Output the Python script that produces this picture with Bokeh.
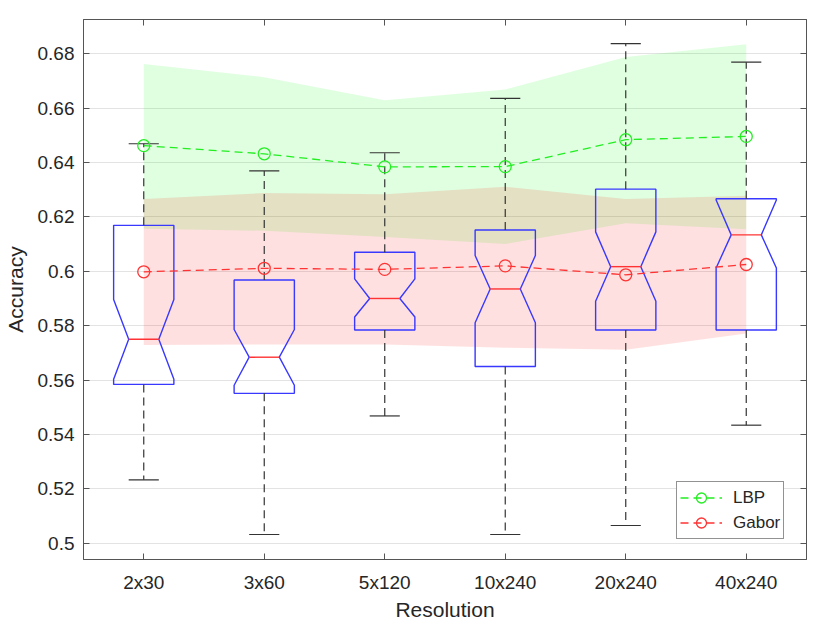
from bokeh.plotting import figure
from bokeh.models import Range1d, LinearAxis, FixedTicker, Legend, LegendItem
from bokeh.embed import file_html
from bokeh.resources import INLINE

# ---- data ----
categories = ["2x30", "3x60", "5x120", "10x240", "20x240", "40x240"]

q1 = [0.5584, 0.5551, 0.5784, 0.5650, 0.5784, 0.5784]
q3 = [0.6169, 0.5968, 0.6070, 0.6152, 0.6302, 0.6267]
median = [0.5750, 0.5684, 0.5900, 0.5935, 0.6017, 0.6134]
notch_lo = [0.5603, 0.5581, 0.5832, 0.5811, 0.5890, 0.6012]
notch_hi = [0.5896, 0.5786, 0.5972, 0.6058, 0.6145, 0.6262]
whisker_lo = [0.5233, 0.5032, 0.5468, 0.5032, 0.5065, 0.5434]
whisker_hi = [0.6469, 0.6369, 0.6436, 0.6636, 0.6837, 0.6769]

lbp_mean = [0.6462, 0.6432, 0.6384, 0.6385, 0.6484, 0.6496]
lbp_upper = [0.6762, 0.6714, 0.6629, 0.6669, 0.6788, 0.6835]
lbp_lower = [0.6156, 0.6149, 0.6126, 0.6100, 0.6177, 0.6155]

gabor_mean = [0.5998, 0.6011, 0.6007, 0.6020, 0.5987, 0.6025]
gabor_upper = [0.6266, 0.6288, 0.6283, 0.6311, 0.6266, 0.6278]
gabor_lower = [0.5729, 0.5731, 0.5731, 0.5719, 0.5711, 0.5771]

y_ticks = [0.5, 0.52, 0.54, 0.56, 0.58, 0.6, 0.62, 0.64, 0.66, 0.68]
y_tick_labels = ["0.5", "0.52", "0.54", "0.56", "0.58", "0.6", "0.62", "0.64", "0.66", "0.68"]

# ---- style ----
FONT = "Liberation Sans"
TXT = "#262626"
AX = "#555555"
BOX_W = 0.25
NOTCH_W = 0.125
CAP_W = 0.125

xs = [i + 1 for i in range(len(categories))]

p = figure(width=830, height=623,
           x_range=Range1d(0.5, 6.5), y_range=Range1d(0.494, 0.6926),
           output_backend="svg", toolbar_location=None,
           min_border_left=83, min_border_right=24,
           min_border_top=19, min_border_bottom=62)
p.background_fill_color = "white"
p.border_fill_color = "white"
p.outline_line_color = AX

xticker = FixedTicker(ticks=xs)
yticker = FixedTicker(ticks=y_ticks)

xa = p.xaxis[0]
xa.ticker = xticker
xa.major_label_overrides = {x: c for x, c in zip(xs, categories)}
ya = p.yaxis[0]
ya.ticker = yticker
ya.major_label_overrides = {t: l for t, l in zip(y_ticks, y_tick_labels)}

for ax in (xa, ya):
    ax.major_tick_in = 6
    ax.major_tick_out = 0
    ax.minor_tick_line_color = None
    ax.axis_line_color = AX
    ax.major_tick_line_color = AX
    ax.major_label_text_font = FONT
    ax.major_label_text_font_size = "19px"
    ax.major_label_text_color = TXT
    ax.axis_label_text_font = FONT
    ax.axis_label_text_font_size = "21px"
    ax.axis_label_text_font_style = "normal"
    ax.axis_label_text_color = TXT

xa.axis_label = "Resolution"
xa.major_label_standoff = 12
xa.axis_label_standoff = 2
ya.axis_label = "Accuracy"
ya.major_label_standoff = 9
ya.axis_label_standoff = 8

# box-style axes: inward ticks on the top and right, without labels
for loc, tk in (("right", yticker), ("above", xticker)):
    a = LinearAxis(ticker=tk, major_label_text_font_size="1px",
                   major_label_text_color=None,
                   major_label_standoff=0, major_tick_in=6, major_tick_out=0,
                   minor_tick_line_color=None, axis_line_color=AX,
                   major_tick_line_color=AX)
    p.add_layout(a, loc)

p.xgrid.grid_line_color = None
p.ygrid.ticker = yticker
p.ygrid.grid_line_color = "#e3e3e3"
p.ygrid.grid_line_width = 1

# ---- shaded bands ----
p.varea(x=xs, y1=lbp_lower, y2=lbp_upper, fill_color="#00ff00", fill_alpha=0.12)
p.varea(x=xs, y1=gabor_lower, y2=gabor_upper, fill_color="#ff0000", fill_alpha=0.12)

# ---- notched boxes ----
box_xs, box_ys = [], []
for x, a, b, m, nl, nh in zip(xs, q1, q3, median, notch_lo, notch_hi):
    nh = min(nh, b)
    nl = max(nl, a)
    box_xs.append([x - BOX_W, x - BOX_W, x - NOTCH_W, x - BOX_W, x - BOX_W,
                   x + BOX_W, x + BOX_W, x + NOTCH_W, x + BOX_W, x + BOX_W])
    box_ys.append([a, nl, m, nh, b, b, nh, m, nl, a])
p.patches(box_xs, box_ys, fill_alpha=0, line_color="#3838ff", line_width=1.4)

p.segment(x0=[x - NOTCH_W for x in xs], x1=[x + NOTCH_W for x in xs],
          y0=median, y1=median, line_color="#ff3333", line_width=1.4)

# whiskers
p.segment(x0=xs, x1=xs, y0=q3, y1=whisker_hi, line_color="#333333",
          line_width=1.2, line_dash="8 5")
p.segment(x0=xs, x1=xs, y0=q1, y1=whisker_lo, line_color="#333333",
          line_width=1.2, line_dash="8 5")
p.segment(x0=[x - CAP_W for x in xs], x1=[x + CAP_W for x in xs],
          y0=whisker_hi, y1=whisker_hi, line_color="#333333", line_width=1.2)
p.segment(x0=[x - CAP_W for x in xs], x1=[x + CAP_W for x in xs],
          y0=whisker_lo, y1=whisker_lo, line_color="#333333", line_width=1.2)

# ---- mean lines ----
gl = p.line(xs, lbp_mean, line_color="#22ee22", line_width=1.3, line_dash="8 5")
gs = p.scatter(xs, lbp_mean, marker="circle", size=12, fill_color=None,
               line_color="#22ee22", line_width=1.3)
rl = p.line(xs, gabor_mean, line_color="#ff3333", line_width=1.3, line_dash="8 5")
rs = p.scatter(xs, gabor_mean, marker="circle", size=12, fill_color=None,
               line_color="#ff3333", line_width=1.3)

legend = Legend(items=[LegendItem(label="LBP", renderers=[gl, gs]),
                       LegendItem(label="Gabor", renderers=[rl, rs])],
                location=(593, 20), label_text_font=FONT,
                label_text_font_size="17px", label_text_color=TXT,
                glyph_width=42, glyph_height=25, label_height=25,
                label_standoff=11, padding=3, spacing=0, margin=0,
                border_line_color=TXT, border_line_width=1,
                background_fill_color="white", background_fill_alpha=1)
p.add_layout(legend)

open("out.html", "w").write(file_html(p, INLINE))
